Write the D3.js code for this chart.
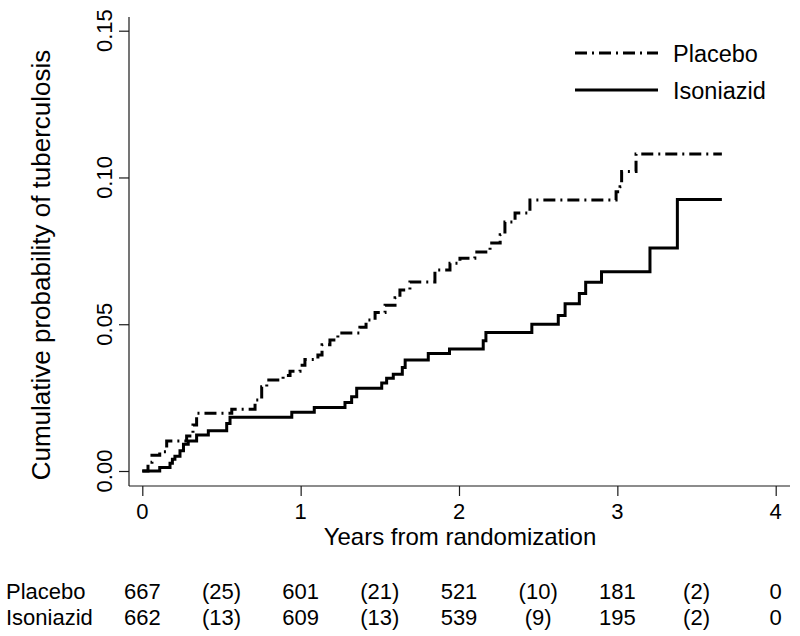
<!DOCTYPE html>
<html>
<head>
<meta charset="utf-8">
<script src="https://cdn.jsdelivr.net/npm/d3@7"></script>
<style>
  html, body { margin: 0; padding: 0; background: #fff; }
  svg { display: block; }
  text { font-family: "Liberation Sans", Arial, Helvetica, sans-serif; fill: #000; }
</style>
</head>
<body>
<script>
// ---------------- data ----------------
const placeboTimes = [0, 0.036, 0.061, 0.11, 0.154, 0.28, 0.32, 0.343, 0.565, 0.712, 0.754, 0.786,
  0.889, 0.933, 0.996, 1.027, 1.109, 1.135, 1.185, 1.235, 1.374, 1.413, 1.47, 1.533, 1.596, 1.627,
  1.69, 1.848, 1.943, 2.006, 2.1, 2.196, 2.26, 2.29, 2.354, 2.448, 2.992, 3.017, 3.027, 3.118, 3.66];
const placeboRisk = [0, 0.003, 0.0054, 0.0066, 0.0102, 0.0119, 0.0157, 0.0197, 0.021, 0.0242, 0.0287, 0.031,
  0.0325, 0.034, 0.036, 0.038, 0.0395, 0.043, 0.0446, 0.047, 0.049, 0.0514, 0.054, 0.0565, 0.059, 0.0617,
  0.0644, 0.0685, 0.0708, 0.0725, 0.0746, 0.0777, 0.0805, 0.0848, 0.0879, 0.0923, 0.0951, 0.0968, 0.102, 0.108, 0.108];

const isoTimes = [0, 0.11, 0.175, 0.19, 0.206, 0.238, 0.26, 0.29, 0.343, 0.417, 0.533, 0.554, 0.944,
  1.086, 1.28, 1.322, 1.354, 1.512, 1.543, 1.585, 1.642, 1.66, 1.806, 1.94, 2.153, 2.17, 2.46, 2.627,
  2.67, 2.76, 2.80, 2.90, 3.206, 3.379, 3.66];
const isoRisk = [0, 0.0012, 0.0026, 0.004, 0.005, 0.0069, 0.0091, 0.0102, 0.0123, 0.0137, 0.0162, 0.0183, 0.020,
  0.0216, 0.0233, 0.0253, 0.0282, 0.030, 0.0316, 0.033, 0.0353, 0.0378, 0.040, 0.0416, 0.0444, 0.0472, 0.050, 0.053,
  0.057, 0.0605, 0.0643, 0.0679, 0.076, 0.0925, 0.0925];

const seriesNames = ["Placebo", "Isoniazid"];
const xTicks = [0, 1, 2, 3, 4];
const xTickLabels = ["0", "1", "2", "3", "4"];
const yTicks = [0, 0.05, 0.10, 0.15];
const yTickLabels = ["0.00", "0.05", "0.10", "0.15"];

const riskTimes = [0, 1, 2, 3, 4];
const eventTimes = [0.5, 1.5, 2.5, 3.5];
const placeboAtRisk = ["667", "601", "521", "181", "0"];
const placeboEvents = ["(25)", "(21)", "(10)", "(2)"];
const isoAtRisk = ["662", "609", "539", "195", "0"];
const isoEvents = ["(13)", "(13)", "(9)", "(2)"];

const xTitle = "Years from randomization";
const yTitle = "Cumulative probability of tuberculosis";

// ---------------- layout ----------------
const W = 800, H = 636;
const svg = d3.select("body").append("svg").attr("width", W).attr("height", H);
svg.append("rect").attr("width", W).attr("height", H).attr("fill", "#fff");

const x = d3.scaleLinear().domain([0, 4]).range([142.3, 775.7]);
const y = d3.scaleLinear().domain([0, 0.15]).range([471, 30.7]);

const axisX0 = 129, axisY0 = 486;
const axisColor = "#1a1a1a";

// y axis
const yAxis = d3.axisLeft(y).tickValues(yTicks).tickSize(10).tickFormat("");
const gy = svg.append("g").attr("transform", `translate(${axisX0},0)`).call(yAxis);
gy.select(".domain").remove();
gy.selectAll(".tick line").attr("stroke", axisColor).attr("stroke-width", 1.2);
gy.append("line").attr("x1", 0).attr("x2", 0).attr("y1", 17).attr("y2", axisY0)
  .attr("stroke", axisColor).attr("stroke-width", 1.2);
svg.append("g").selectAll("text").data(yTicks).join("text")
  .attr("transform", (d) => `translate(112,${y(d)}) rotate(-90)`)
  .attr("text-anchor", "middle")
  .attr("font-size", 22)
  .text((d, i) => yTickLabels[i]);

// x axis
const xAxis = d3.axisBottom(x).tickValues(xTicks).tickSize(10).tickFormat("");
const gx = svg.append("g").attr("transform", `translate(0,${axisY0})`).call(xAxis);
gx.select(".domain").remove();
gx.selectAll(".tick line").attr("stroke", axisColor).attr("stroke-width", 1.2);
gx.append("line").attr("x1", axisX0).attr("x2", 790).attr("y1", 0).attr("y2", 0)
  .attr("stroke", axisColor).attr("stroke-width", 1.2);
svg.append("g").selectAll("text").data(xTicks).join("text")
  .attr("x", (d) => x(d)).attr("y", 519)
  .attr("text-anchor", "middle")
  .attr("font-size", 22)
  .text((d, i) => xTickLabels[i]);

// titles
svg.append("text").attr("x", 460).attr("y", 545).attr("text-anchor", "middle")
  .attr("font-size", 24).text(xTitle);
svg.append("text").attr("transform", "translate(50,265) rotate(-90)").attr("text-anchor", "middle")
  .attr("font-size", 26).text(yTitle);

// curves
const line = d3.line().x((d) => x(d[0])).y((d) => y(d[1])).curve(d3.curveStepAfter);
const placeboPts = placeboTimes.map((t, i) => [t, placeboRisk[i]]);
const isoPts = isoTimes.map((t, i) => [t, isoRisk[i]]);
const dashPattern = "12,5,2,5";

svg.append("path").datum(isoPts).attr("d", line)
  .attr("fill", "none").attr("stroke", "#000").attr("stroke-width", 3);
svg.append("path").datum(placeboPts).attr("d", line)
  .attr("fill", "none").attr("stroke", "#000").attr("stroke-width", 3)
  .attr("stroke-dasharray", dashPattern);

// legend
const legend = svg.append("g");
const legendRows = [
  { name: seriesNames[0], dash: dashPattern, y: 53 },
  { name: seriesNames[1], dash: null, y: 90 }
];
legendRows.forEach((r) => {
  legend.append("line").attr("x1", 575).attr("x2", 658).attr("y1", r.y).attr("y2", r.y)
    .attr("stroke", "#000").attr("stroke-width", 3)
    .attr("stroke-dasharray", r.dash);
  legend.append("text").attr("x", 673).attr("y", r.y + 8.5).attr("font-size", 23.5).text(r.name);
});

// risk table
const table = svg.append("g");
const rows = [
  { name: seriesNames[0], atRisk: placeboAtRisk, events: placeboEvents, y: 599 },
  { name: seriesNames[1], atRisk: isoAtRisk, events: isoEvents, y: 625 }
];
rows.forEach((r) => {
  table.append("text").attr("x", 6).attr("y", r.y).attr("font-size", 22).text(r.name);
  table.selectAll(null).data(riskTimes).join("text")
    .attr("x", (d) => x(d)).attr("y", r.y).attr("text-anchor", "middle")
    .attr("font-size", 22).text((d, i) => r.atRisk[i]);
  table.selectAll(null).data(eventTimes).join("text")
    .attr("x", (d) => x(d)).attr("y", r.y).attr("text-anchor", "middle")
    .attr("font-size", 22).text((d, i) => r.events[i]);
});
</script>
</body>
</html>
